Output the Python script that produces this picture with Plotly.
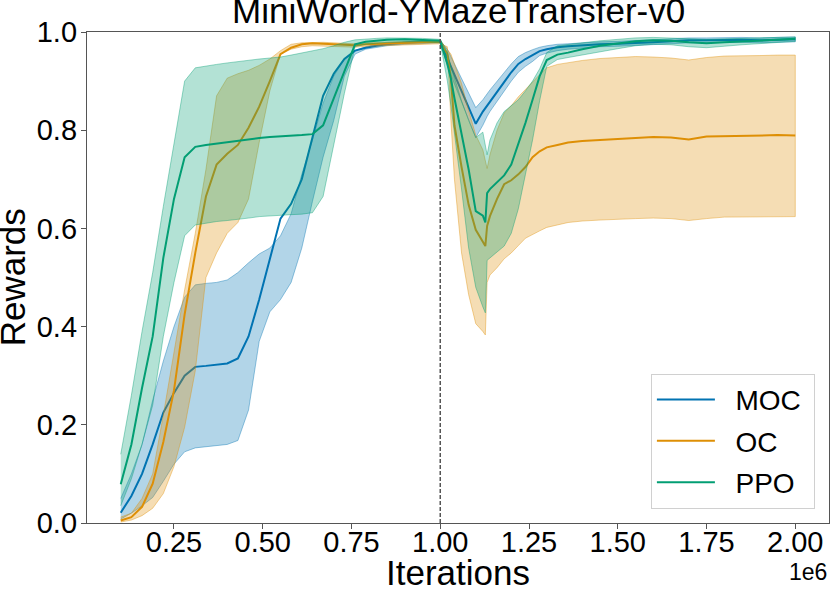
import plotly.graph_objects as go

# -----------------------------
# DATA (x in units of 1e6 iterations)
# -----------------------------
iters = [0.10, 0.13, 0.16, 0.19, 0.22, 0.25, 0.28, 0.31, 0.34, 0.37,
         0.40, 0.43, 0.46, 0.49, 0.52, 0.55, 0.58, 0.61, 0.64, 0.67,
         0.70, 0.73, 0.76, 0.79, 0.82, 0.85, 0.90, 0.95, 1.00,
         1.02, 1.03, 1.04, 1.06, 1.08, 1.10, 1.12, 1.127, 1.132, 1.14,
         1.16, 1.18, 1.20, 1.22, 1.24, 1.26, 1.28, 1.30, 1.33, 1.36,
         1.40, 1.45, 1.50, 1.55, 1.60, 1.65, 1.70, 1.75, 1.80, 1.85,
         1.90, 1.95, 2.00]

moc_mean = [0.021, 0.055, 0.10, 0.16, 0.225, 0.265, 0.30, 0.318, 0.32, 0.322,
            0.325, 0.335, 0.38, 0.455, 0.54, 0.62, 0.65, 0.70, 0.785, 0.87,
            0.915, 0.945, 0.962, 0.968, 0.972, 0.975, 0.978, 0.98, 0.98,
            0.947, 0.93, 0.914, 0.881, 0.848, 0.813, 0.838, 0.845, 0.852, 0.86,
            0.88, 0.899, 0.918, 0.935, 0.945, 0.953, 0.961, 0.965, 0.969, 0.971,
            0.973, 0.975, 0.976, 0.977, 0.979, 0.981, 0.983, 0.983, 0.984, 0.984,
            0.983, 0.984, 0.985]
moc_upper = [0.05, 0.10, 0.16, 0.25, 0.33, 0.40, 0.46, 0.485, 0.488, 0.49,
             0.495, 0.51, 0.53, 0.548, 0.56, 0.585, 0.63, 0.71, 0.78, 0.855,
             0.91, 0.945, 0.962, 0.97, 0.975, 0.978, 0.98, 0.982, 0.982,
             0.965, 0.95, 0.935, 0.905, 0.875, 0.846, 0.862, 0.868, 0.874, 0.882,
             0.90, 0.918, 0.935, 0.95, 0.958, 0.964, 0.969, 0.972, 0.975, 0.976,
             0.978, 0.98, 0.981, 0.982, 0.984, 0.986, 0.988, 0.988, 0.989, 0.989,
             0.988, 0.989, 0.99]
moc_lower = [0.008, 0.02, 0.035, 0.052, 0.085, 0.12, 0.145, 0.153, 0.156, 0.158,
             0.16, 0.168, 0.23, 0.37, 0.43, 0.455, 0.49, 0.56, 0.655, 0.745,
             0.82, 0.91, 0.955, 0.965, 0.968, 0.972, 0.975, 0.977, 0.978,
             0.932, 0.912, 0.894, 0.857, 0.82, 0.785, 0.81, 0.82, 0.828, 0.838,
             0.86, 0.88, 0.90, 0.918, 0.93, 0.94, 0.952, 0.957, 0.962, 0.965,
             0.968, 0.97, 0.971, 0.972, 0.974, 0.976, 0.978, 0.978, 0.979, 0.979,
             0.978, 0.979, 0.98]

oc_mean = [0.005, 0.012, 0.033, 0.08, 0.165, 0.27, 0.425, 0.55, 0.665, 0.73,
           0.752, 0.77, 0.805, 0.848, 0.90, 0.955, 0.968, 0.975, 0.977, 0.976,
           0.975, 0.974, 0.973, 0.975, 0.976, 0.977, 0.978, 0.979, 0.98,
           0.955, 0.905, 0.81, 0.725, 0.648, 0.597, 0.572, 0.564, 0.605, 0.625,
           0.66, 0.69, 0.698, 0.71, 0.725, 0.745, 0.757, 0.765, 0.77, 0.775,
           0.778, 0.78, 0.783, 0.785, 0.786, 0.785, 0.781, 0.787, 0.788, 0.788,
           0.789, 0.79, 0.789]
oc_upper = [0.012, 0.02, 0.05, 0.10, 0.22, 0.345, 0.475, 0.59, 0.72, 0.87,
            0.906, 0.915, 0.922, 0.932, 0.945, 0.962, 0.975, 0.978, 0.979, 0.979,
            0.978, 0.977, 0.976, 0.978, 0.979, 0.98, 0.981, 0.982, 0.983,
            0.965, 0.955, 0.935, 0.895, 0.84, 0.79, 0.76, 0.74, 0.722, 0.75,
            0.80, 0.835, 0.85, 0.868, 0.884, 0.898, 0.913, 0.927, 0.934, 0.938,
            0.942, 0.946, 0.948, 0.95, 0.949, 0.947, 0.943, 0.948, 0.951, 0.951,
            0.952, 0.953, 0.953]
oc_lower = [0.002, 0.006, 0.015, 0.03, 0.06, 0.115, 0.195, 0.31, 0.50, 0.55,
            0.59, 0.612, 0.66, 0.775, 0.88, 0.955, 0.965, 0.97, 0.972, 0.972,
            0.971, 0.97, 0.969, 0.971, 0.972, 0.973, 0.974, 0.975, 0.976,
            0.97, 0.82, 0.70, 0.55, 0.465, 0.406, 0.39, 0.383, 0.49, 0.505,
            0.52, 0.538, 0.55, 0.565, 0.58, 0.588, 0.595, 0.602, 0.607, 0.612,
            0.615, 0.617, 0.619, 0.62, 0.621, 0.62, 0.616, 0.62, 0.623, 0.623,
            0.623, 0.624, 0.624]

ppo_mean = [0.079, 0.16, 0.275, 0.38, 0.54, 0.66, 0.745, 0.766, 0.77, 0.773,
            0.776, 0.779, 0.782, 0.784, 0.786, 0.787, 0.789, 0.79, 0.792, 0.81,
            0.865, 0.918, 0.975, 0.98, 0.982, 0.984, 0.985, 0.984, 0.982,
            0.935, 0.905, 0.865, 0.795, 0.72, 0.635, 0.626, 0.612, 0.672, 0.68,
            0.694, 0.708, 0.73, 0.772, 0.815, 0.862, 0.91, 0.943, 0.954, 0.958,
            0.965, 0.972, 0.977, 0.981, 0.983, 0.982, 0.979, 0.977, 0.979, 0.981,
            0.983, 0.984, 0.986]
ppo_upper = [0.14, 0.26, 0.39, 0.51, 0.645, 0.776, 0.90, 0.927, 0.931, 0.934,
             0.937, 0.94, 0.943, 0.945, 0.947, 0.949, 0.953, 0.957, 0.961, 0.966,
             0.972, 0.979, 0.984, 0.986, 0.987, 0.988, 0.988, 0.987, 0.985,
             0.96, 0.93, 0.905, 0.86, 0.82, 0.785, 0.796, 0.77, 0.75, 0.78,
             0.815, 0.838, 0.85, 0.862, 0.88, 0.90, 0.925, 0.958, 0.972, 0.975,
             0.978, 0.982, 0.985, 0.988, 0.989, 0.988, 0.986, 0.985, 0.986, 0.987,
             0.988, 0.989, 0.99]
ppo_lower = [0.035, 0.09, 0.16, 0.24, 0.38, 0.49, 0.585, 0.607, 0.611, 0.614,
             0.616, 0.618, 0.621, 0.624, 0.626, 0.627, 0.628, 0.629, 0.632, 0.665,
             0.77, 0.875, 0.97, 0.975, 0.977, 0.979, 0.98, 0.98, 0.978,
             0.90, 0.85, 0.80, 0.68, 0.56, 0.48, 0.44, 0.428, 0.535, 0.54,
             0.552, 0.564, 0.59, 0.64, 0.71, 0.78, 0.86, 0.93, 0.944, 0.948,
             0.953, 0.96, 0.966, 0.972, 0.975, 0.974, 0.97, 0.968, 0.971, 0.974,
             0.977, 0.979, 0.981]

methods = ["MOC", "OC", "PPO"]
colors = ["#0173b2", "#de8f05", "#029e73"]
fills = ["rgba(1,115,178,0.3)", "rgba(222,143,5,0.3)", "rgba(2,158,115,0.3)"]
edges = ["rgba(1,115,178,0.4)", "rgba(222,143,5,0.4)", "rgba(2,158,115,0.4)"]
series = [(moc_mean, moc_upper, moc_lower),
          (oc_mean, oc_upper, oc_lower),
          (ppo_mean, ppo_upper, ppo_lower)]

x_ticks = [0.25, 0.50, 0.75, 1.00, 1.25, 1.50, 1.75, 2.00]
y_ticks = [0.0, 0.2, 0.4, 0.6, 0.8, 1.0]

FONT = "Liberation Sans, Arial, sans-serif"
NBSP = "\u00a0"

# -----------------------------
# FIGURE
# -----------------------------
fig = go.Figure()

for name, col, fc, ec, (mean, up, lo) in zip(methods, colors, fills, edges, series):
    # shaded band first, then the mean line on top of it
    fig.add_trace(go.Scatter(
        x=iters + iters[::-1],
        y=up + lo[::-1],
        fill="toself",
        fillcolor=fc,
        line=dict(color=ec, width=1),
        mode="lines",
        showlegend=False,
        hoverinfo="skip",
    ))
    fig.add_trace(go.Scatter(
        x=iters, y=mean, name=NBSP * 2 + name + NBSP, mode="lines",
        legendgroup=name,
        line=dict(color=col, width=2),
    ))

# vertical dashed line at the transfer point
fig.add_shape(type="line", x0=1.0, x1=1.0, y0=0, y1=1, yref="paper",
              line=dict(color="#555555", width=1.5, dash="4px,2px"))

fig.update_layout(
    width=830, height=597,
    margin=dict(l=87, r=1, t=32, b=74),
    plot_bgcolor="white",
    paper_bgcolor="white",
    font=dict(family=FONT, color="black"),
    xaxis=dict(range=[0.005, 2.095], tickvals=x_ticks, tickformat=".2f",
               showgrid=False, zeroline=False, showline=True, mirror=True,
               linecolor="#555555", linewidth=1.3, ticks="outside", ticklen=5,
               tickcolor="#555555", tickfont=dict(size=29), automargin=False,
               ticklabelstandoff=-12),
    yaxis=dict(range=[0, 1], tickvals=y_ticks, tickformat=".1f",
               showgrid=False, zeroline=False, showline=True, mirror=True,
               linecolor="#555555", linewidth=1.3, ticks="outside", ticklen=5,
               tickcolor="#555555", tickfont=dict(size=29), automargin=False,
               ticklabelstandoff=-2),
    legend=dict(x=0.981, y=0.029, xanchor="right", yanchor="bottom",
                bgcolor="rgba(255,255,255,0.8)", bordercolor="#d0d0d0",
                borderwidth=1, font=dict(size=28), itemwidth=58,
                tracegroupgap=2),
)

fig.add_annotation(text="MiniWorld-YMazeTransfer-v0", x=0.5, y=1.0,
                   xref="paper", yref="paper", xanchor="center",
                   yanchor="bottom", showarrow=False, font=dict(size=35))
fig.add_annotation(text="Iterations", x=0.5, y=-0.1, xref="paper", yref="paper",
                   xanchor="center", yanchor="middle", showarrow=False,
                   font=dict(size=35))
fig.add_annotation(text="Rewards", x=-0.1, y=0.5, xref="paper", yref="paper",
                   xanchor="center", yanchor="middle", textangle=-90,
                   showarrow=False, font=dict(size=35))
fig.add_annotation(text="1e6", x=1.0, y=-0.1, xref="paper", yref="paper",
                   xanchor="right", yanchor="middle", showarrow=False,
                   font=dict(size=23))

# page body margin would shift the figure by 8px, so drop it
fig.write_html("out.html", config={"displayModeBar": False},
               post_script="document.body.style.margin='0';")
